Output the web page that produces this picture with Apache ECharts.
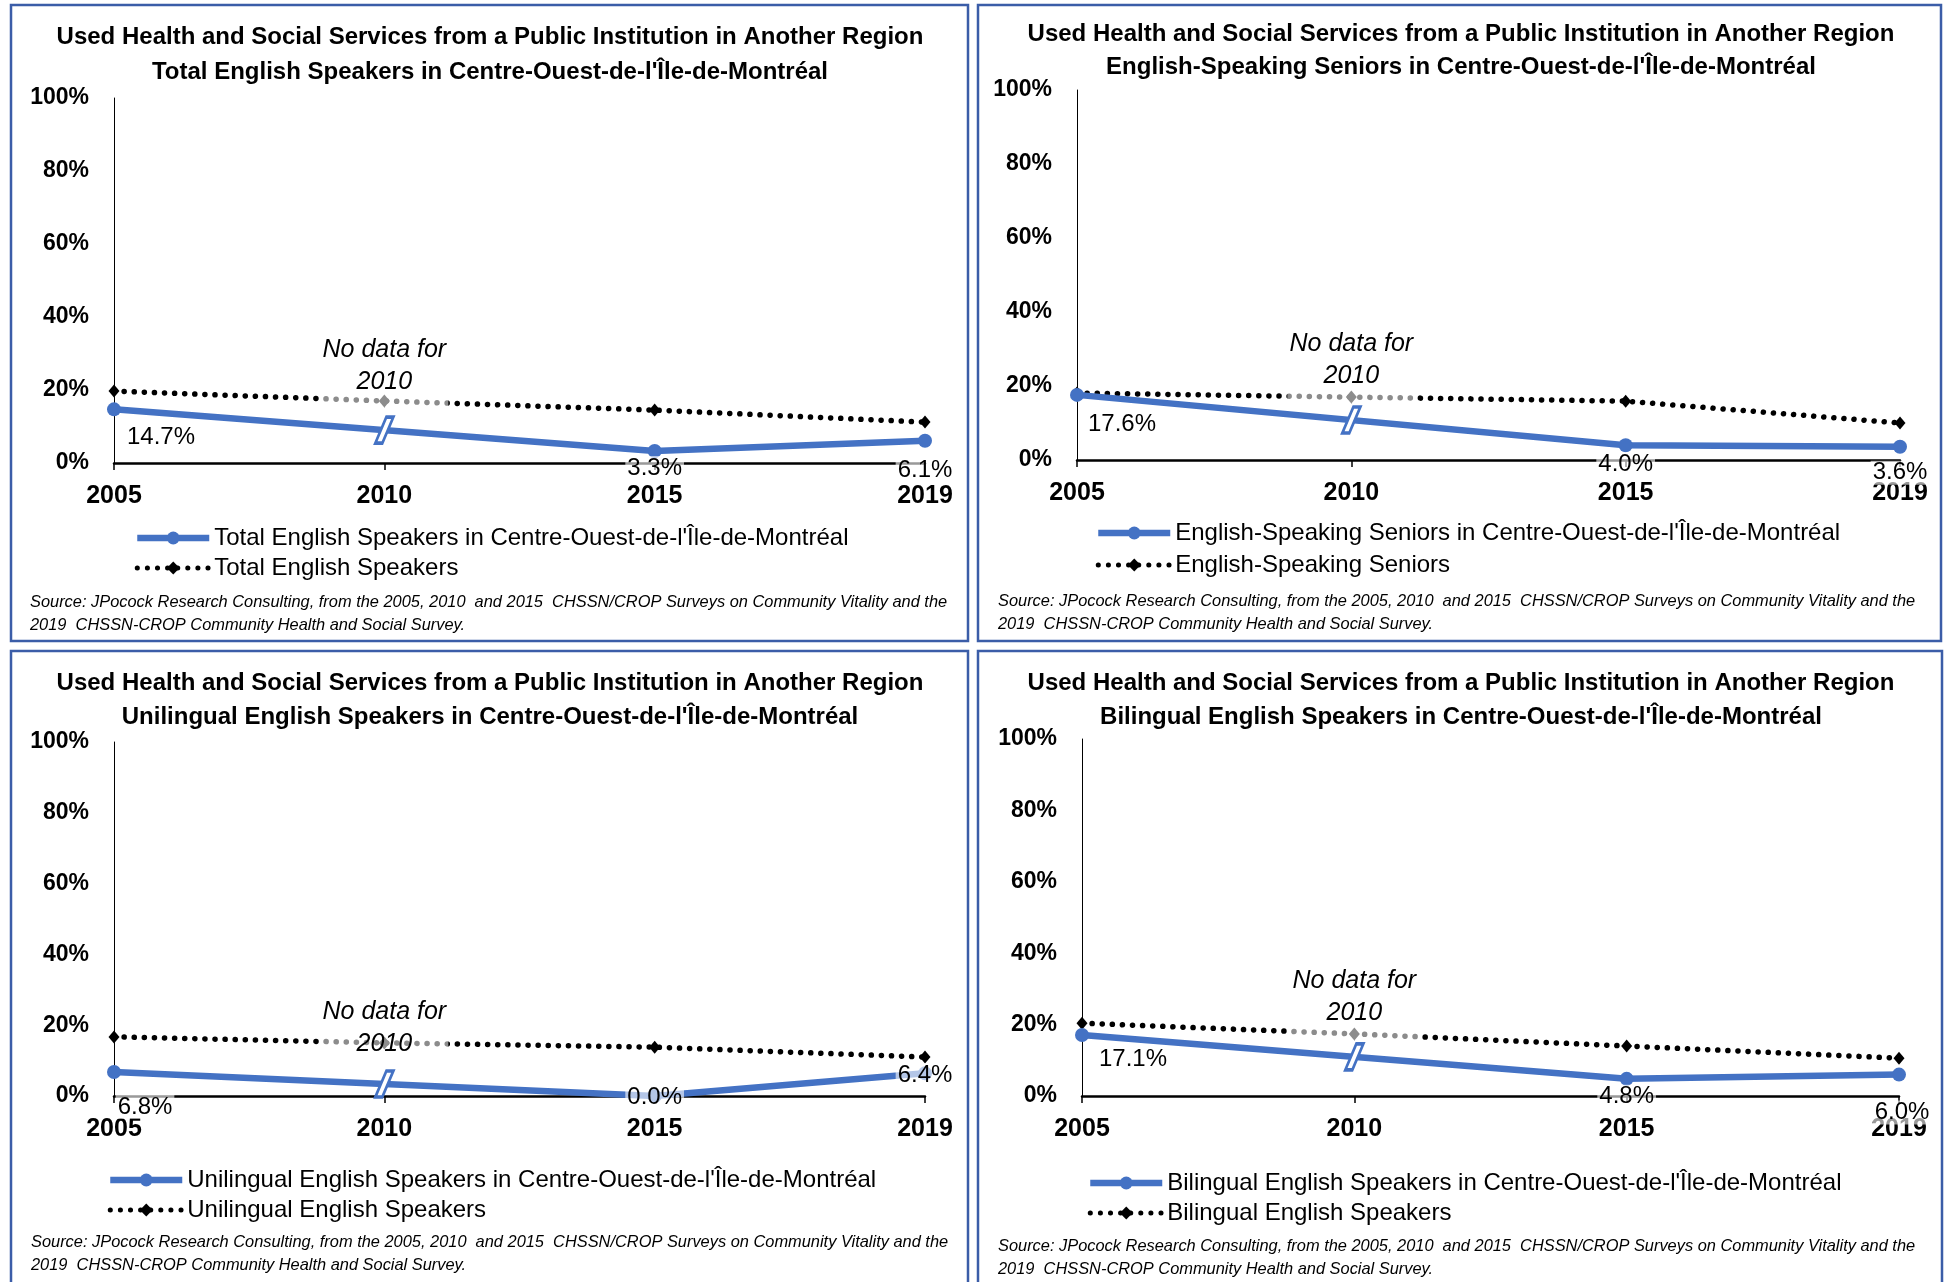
<!DOCTYPE html>
<html>
<head>
<meta charset="utf-8">
<script src="https://cdn.jsdelivr.net/npm/echarts@6/dist/echarts.min.js"></script>
<style>
  html, body { margin: 0; padding: 0; background: #fff; }
  #chart { width: 1946px; height: 1282px; }
</style>
</head>
<body>
<div id="chart"></div>
<script>
const years = ['2005', '2010', '2015', '2019'];
const yTicks = [0, 20, 40, 60, 80, 100];

// % who used services in another region (2010: no data for the region)
const totalRegion = [14.7, null, 3.3, 6.1];
const totalAll = [19.7, 17.0, 14.5, 11.2];
const seniorsRegion = [17.6, null, 4.0, 3.6];
const seniorsAll = [18.1, 17.0, 15.9, 10.0];
const uniRegion = [6.8, null, 0.0, 6.4];
const uniAll = [16.7, 15.0, 13.8, 11.0];
const biRegion = [17.1, null, 4.8, 6.0];
const biAll = [20.4, 17.4, 14.0, 10.6];

const mainTitle = 'Used Health and Social Services from a Public Institution in Another Region';
const subTitles = [
  "Total English Speakers in Centre-Ouest-de-l'Île-de-Montréal",
  "English-Speaking Seniors in Centre-Ouest-de-l'Île-de-Montréal",
  "Unilingual English Speakers in Centre-Ouest-de-l'Île-de-Montréal",
  "Bilingual English Speakers in Centre-Ouest-de-l'Île-de-Montréal"
];
const regionNames = subTitles;
const groupNames = ['Total English Speakers', 'English-Speaking Seniors', 'Unilingual English Speakers', 'Bilingual English Speakers'];
const sourceText = 'Source: JPocock Research Consulting, from the 2005, 2010  and 2015  CHSSN/CROP Surveys on Community Vitality and the\n2019  CHSSN-CROP Community Health and Social Survey.';

const FONT = 'Liberation Sans';
const BLUE = '#4472C4';
const DOTS = [0.1, 10];

// layout of the four panels
const panels = [
  { region: totalRegion, all: totalAll,
    box: [11, 5, 957, 636], grid: { left: 114, top: 98, width: 811, height: 365 },
    title: { x: 490, top: 20, lh: 35 }, legend: { left: 134, top: 525, gap: 4 },
    source: { x: 30, top: 591 }, noteShift: -35,
    labelOff: [[47, 28], null, [0, 17], [0, 30]] },
  { region: seniorsRegion, all: seniorsAll,
    box: [978, 5, 963, 636], grid: { left: 1077, top: 90, width: 823, height: 370 },
    title: { x: 1461, top: 18, lh: 33 }, legend: { left: 1095, top: 520, gap: 6 },
    source: { x: 998, top: 590 }, noteShift: -37,
    labelOff: [[45, 29], null, [0, 19], [0, 26]] },
  { region: uniRegion, all: uniAll,
    box: [11, 651, 957, 640], grid: { left: 114, top: 742, width: 811, height: 354 },
    title: { x: 490, top: 666, lh: 34 }, legend: { left: 107, top: 1167, gap: 4 },
    source: { x: 31, top: 1231 }, noteShift: -15,
    labelOff: [[31, 35], null, [0, 1], [0, 2]] },
  { region: biRegion, all: biAll,
    box: [978, 651, 964, 640], grid: { left: 1082, top: 739, width: 817, height: 357 },
    title: { x: 1461, top: 666, lh: 34 }, legend: { left: 1087, top: 1170, gap: 4 },
    source: { x: 998, top: 1235 }, noteShift: -37,
    labelOff: [[51, 24], null, [0, 18], [3, 38]] }
];

const chart = echarts.init(document.getElementById('chart'));

const option = {
  backgroundColor: '#fff',
  animation: false,
  title: panels.map((p, i) => ({
    text: mainTitle + '\n' + subTitles[i],
    left: p.title.x, top: p.title.top, textAlign: 'center', padding: 0,
    textStyle: { fontFamily: FONT, fontSize: 24, fontWeight: 'bold', color: '#000', lineHeight: p.title.lh }
  })),
  legend: panels.map((p, i) => ({
    data: [
      { name: regionNames[i], lineStyle: { width: 6.5 }, itemStyle: { color: BLUE } },
      { name: groupNames[i], lineStyle: { width: 5, type: DOTS, cap: 'round' } }
    ],
    orient: 'vertical', left: p.legend.left, top: p.legend.top, itemGap: p.legend.gap,
    itemWidth: 72, itemHeight: 16, padding: 0, selectedMode: false,
    textStyle: { fontFamily: FONT, fontSize: 24, color: '#000', lineHeight: 26 }
  })),
  grid: panels.map(p => p.grid),
  xAxis: panels.map((p, i) => ({
    type: 'category', gridIndex: i, data: years, boundaryGap: false,
    axisLine: { lineStyle: { color: '#000', width: 2.5 } },
    axisTick: { show: true, length: 7, lineStyle: { color: '#000', width: 1.5 } },
    axisLabel: { fontFamily: FONT, fontSize: 25, fontWeight: 'bold', color: '#000', margin: 21 },
    splitLine: { show: false }
  })),
  yAxis: panels.map((p, i) => ({
    type: 'value', gridIndex: i, min: yTicks[0], max: yTicks[yTicks.length - 1], interval: 20,
    axisLine: { show: true, lineStyle: { color: '#000', width: 1 } },
    axisTick: { show: false },
    axisLabel: { fontFamily: FONT, fontSize: 23, fontWeight: 'bold', color: '#000', margin: 25, formatter: '{value}%' },
    splitLine: { show: false }
  })),
  series: []
};

panels.forEach((p, i) => {
  const mid = (p.region[0] + p.region[2]) / 2;
  option.series.push({
    name: groupNames[i], type: 'line', xAxisIndex: i, yAxisIndex: i, z: 2,
    data: p.all,
    symbol: 'diamond', symbolSize: [11, 13],
    itemStyle: { color: '#000' },
    lineStyle: { color: '#000', width: 5.5, type: DOTS, cap: 'round' }
  });
  option.series.push({
    name: regionNames[i], type: 'line', xAxisIndex: i, yAxisIndex: i, z: 3,
    connectNulls: true,
    data: p.region.map((v, k) => ({
      value: v,
      label: p.labelOff[k] ? { offset: p.labelOff[k] } : { show: false }
    })),
    symbol: 'circle', symbolSize: 14,
    itemStyle: { color: BLUE },
    lineStyle: { color: BLUE, width: 6.5 },
    label: {
      show: true, position: 'inside', fontFamily: FONT, fontSize: 24, color: '#000',
      backgroundColor: 'rgba(255,255,255,0.6)', padding: [0, 2],
      formatter: d => d.value == null ? '' : d.value.toFixed(1) + '%'
    },
    markPoint: {
      silent: true,
      symbol: 'path://M11,0 L18,0 L7,26 L0,26 Z',
      symbolSize: [18, 26],
      itemStyle: { color: '#fff', borderColor: BLUE, borderWidth: 3 },
      label: { show: false },
      data: [{ coord: [1, mid] }]
    }
  });
});

chart.setOption(option);

// borders, source notes and the "No data for 2010" boxes
const graphics = [];
panels.forEach((p, i) => {
  graphics.push({
    type: 'rect', z: 0,
    shape: { x: p.box[0], y: p.box[1], width: p.box[2], height: p.box[3] },
    style: { fill: 'none', stroke: '#3B5DA8', lineWidth: 2.5 }
  });
  graphics.push({
    type: 'text', left: p.source.x, top: p.source.top, z: 10,
    style: { text: sourceText, font: 'italic 16.4px "' + FONT + '"', fill: '#000', lineHeight: 23 }
  });
  const pt = chart.convertToPixel({ gridIndex: i }, [1, p.all[1]]);
  const cy = pt[1] + p.noteShift;
  const bottom = Math.max(cy + 34, pt[1] + 6);
  graphics.push({
    type: 'rect', z: 50,
    shape: { x: pt[0] - 64, y: cy - 34, width: 128, height: bottom - (cy - 34) },
    style: { fill: 'rgba(255,255,255,0.55)' }
  });
  graphics.push({
    type: 'text', z: 51, x: pt[0], y: cy,
    style: {
      text: 'No data for\n2010', font: 'italic 25px "' + FONT + '"', fill: '#000',
      align: 'center', verticalAlign: 'middle', lineHeight: 32
    }
  });
});
chart.setOption({ graphic: graphics });
</script>
</body>
</html>
